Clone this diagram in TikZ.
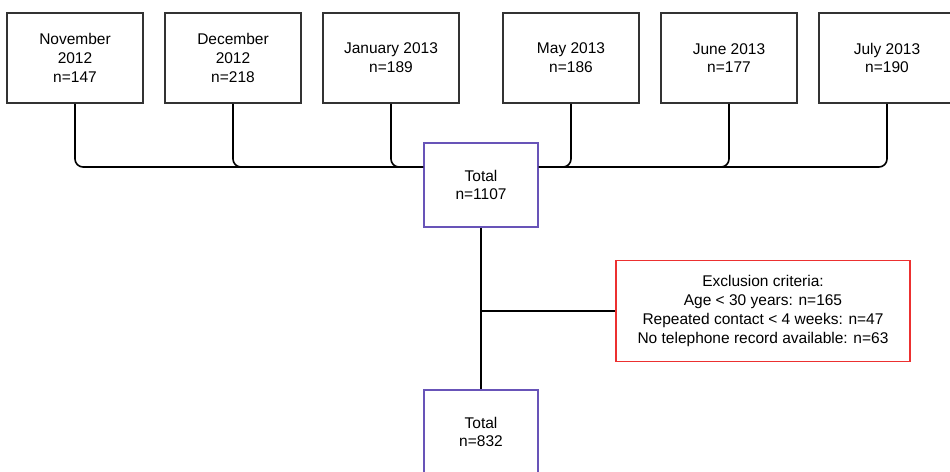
\documentclass[tikz,border=0pt]{standalone}
\usepackage{fontspec}
\setmainfont{Liberation Sans}
\usetikzlibrary{positioning}
\definecolor{totalviolet}{RGB}{104,84,184}
\definecolor{exclred}{RGB}{236,48,48}

\begin{document}
\begin{tikzpicture}[
x=1pt, y=1pt,
node distance=20.4pt,
monthnode/.style={rectangle, draw=black!80, fill=white, line width=1.6pt, minimum width=136pt, minimum height=90pt, align=center, font=\fontsize{15.5}{18.8}\selectfont},
totalnode/.style={rectangle, draw=totalviolet, fill=white, line width=1.6pt, minimum width=114pt, minimum height=84pt, align=center, font=\fontsize{15.5}{18.8}\selectfont},
exclnode/.style={rectangle, draw=exclred, fill=white, line width=1.6pt, minimum width=294pt, minimum height=101pt, align=center, font=\fontsize{15.5}{18.8}\selectfont},
link/.style={line width=1.6pt, rounded corners=8pt},
]
\useasboundingbox (0,0) rectangle (950,-471);

%Nodes
\node[monthnode]	(nov)				at (75,-58)				{November\\2012\\n=147};
\node[monthnode]	(dec)				[right=of nov]			{December\\2012\\n=218};
\node[monthnode]	(jan)				[right=of dec]			{January 2013\\n=189};
\node[monthnode]	(may)				[right=42.4pt of jan]	{May 2013\\n=186};
\node[monthnode]	(jun)				[right=of may]			{June 2013\\n=177};
\node[monthnode]	(jul)				[right=of jun]			{July 2013\\n=190};
\node[totalnode]	(total)				at (481,-185)			{Total\\n=1107};
\node[exclnode]		(excl)				at (763,-311)			{Exclusion criteria:\\Age < 30 years: n=165\\Repeated contact < 4 weeks: n=47\\No telephone record available: n=63};
\node[totalnode]	(final)				at (481,-432)			{Total\\n=832};
\coordinate			(branch)			at (total.south |- excl.west);

%Lines
\draw[link] (nov.south) |- ([yshift=18pt]total.west);
\draw[link] (dec.south) |- ([yshift=18pt]total.west);
\draw[link] (jan.south) |- ([yshift=18pt]total.west);
\draw[link] (may.south) |- ([yshift=18pt]total.east);
\draw[link] (jun.south) |- ([yshift=18pt]total.east);
\draw[link] (jul.south) |- ([yshift=18pt]total.east);
\draw[link] (total.south) -- (final.north);
\draw[link] (branch) -- (excl.west);
\end{tikzpicture}
\end{document}
